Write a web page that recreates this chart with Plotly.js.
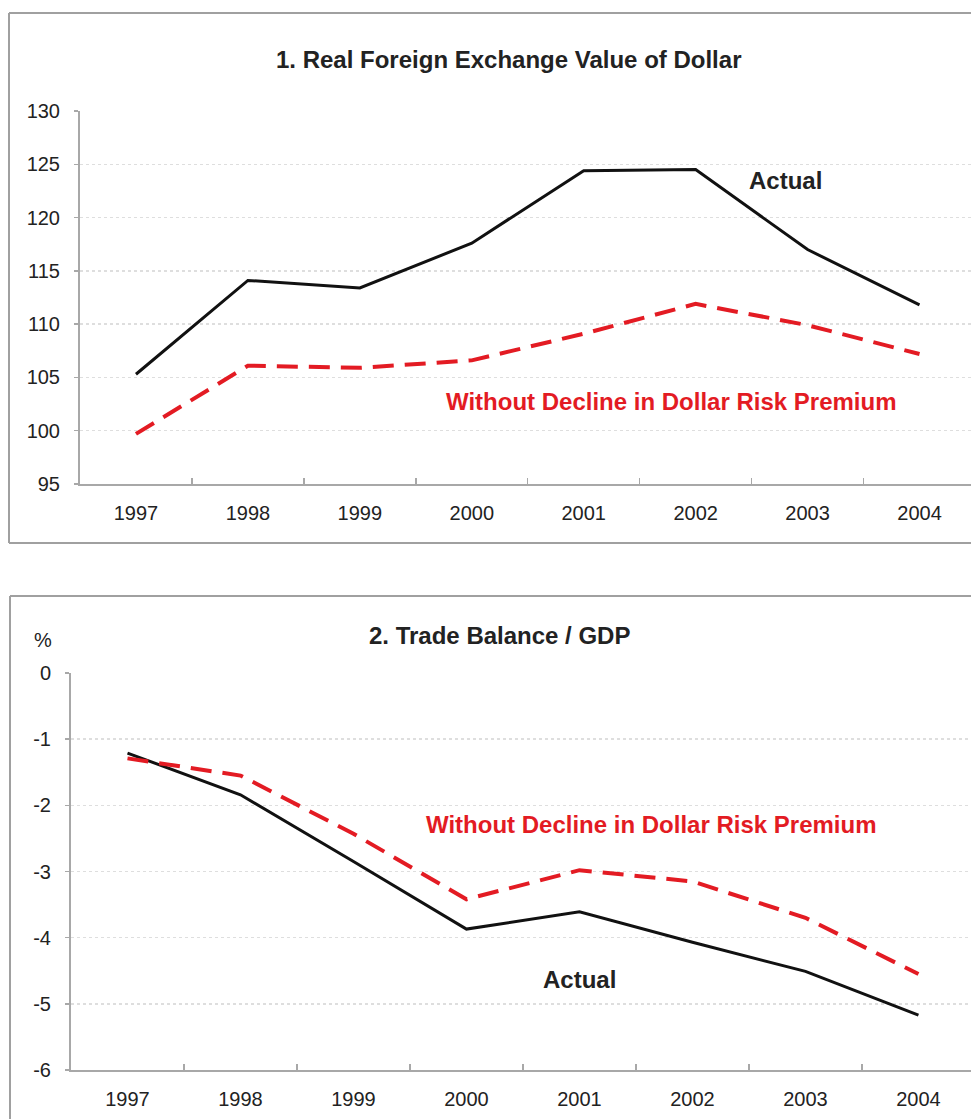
<!DOCTYPE html>
<html>
<head>
<meta charset="utf-8">
<script src="https://cdn.plot.ly/plotly-3.0.1.min.js"></script>
<style>
html,body{margin:0;padding:0;background:#fff;}
#chart{width:971px;height:1119px;}
</style>
</head>
<body>
<div id="chart"></div>
<script>
// ---- data ----
var years = ['1997','1998','1999','2000','2001','2002','2003','2004'];

var fxActual  = [105.3, 114.1, 113.4, 117.6, 124.4, 124.5, 117.0, 111.8];
var fxNoDecline = [99.7, 106.1, 105.9, 106.6, 109.1, 111.9, 109.9, 107.2];

var tbActual  = [-1.21, -1.84, -2.85, -3.87, -3.61, -4.07, -4.51, -5.17];
var tbNoDecline = [-1.29, -1.55, -2.43, -3.42, -2.98, -3.15, -3.70, -4.55];

var fxTickVals = [95, 100, 105, 110, 115, 120, 125, 130];
var tbTickVals = [-6, -5, -4, -3, -2, -1, 0];
var tbTickText = ['-6', '-5', '-4', '-3', '-2', '-1', '0'];

var title1 = '1. Real Foreign Exchange Value of Dollar';
var title2 = '2. Trade Balance / GDP';
var labelActual = 'Actual';
var labelNoDecline = 'Without Decline in Dollar Risk Premium';
var unit2 = '%';

// ---- layout helpers ----
var W = 971, H = 1119;
function px(x){ return x / W; }
function py(y){ return 1 - y / H; }

var FONT = 'Liberation Sans, Arial, sans-serif';
var RED = '#e31b23';
var BORDER = '#a0a0a0';
var AXIS = '#a8a8a8';

var traces = [
  {x: years, y: fxActual, xaxis: 'x', yaxis: 'y', type: 'scatter', mode: 'lines',
   line: {color: '#111', width: 3}, hoverinfo: 'skip'},
  {x: years, y: fxNoDecline, xaxis: 'x', yaxis: 'y', type: 'scatter', mode: 'lines',
   line: {color: RED, width: 4, dash: '21px,11px'}, hoverinfo: 'skip'},
  {x: years, y: tbActual, xaxis: 'x2', yaxis: 'y2', type: 'scatter', mode: 'lines',
   line: {color: '#111', width: 3}, hoverinfo: 'skip'},
  {x: years, y: tbNoDecline, xaxis: 'x2', yaxis: 'y2', type: 'scatter', mode: 'lines',
   line: {color: RED, width: 4, dash: '21px,11px'}, hoverinfo: 'skip'}
];

var xCommon = {
  type: 'category', showgrid: false, zeroline: false,
  showline: true, linecolor: AXIS, linewidth: 2,
  ticks: 'inside', tickson: 'boundaries', ticklen: 6, tickcolor: AXIS, tickwidth: 1.5,
  tickfont: {family: FONT, size: 20, color: '#222'},
  fixedrange: true
};
var yCommon = {
  showgrid: true, gridcolor: '#dedede', griddash: 'dot', gridwidth: 1.5,
  zeroline: false, showline: true, linecolor: AXIS, linewidth: 2,
  ticks: 'outside', ticklen: 4, tickcolor: AXIS, tickwidth: 1.5,
  tickfont: {family: FONT, size: 20, color: '#222'},
  fixedrange: true
};

var layout = {
  width: W, height: H,
  margin: {l: 0, r: 0, t: 0, b: 0},
  paper_bgcolor: '#fff', plot_bgcolor: 'rgba(0,0,0,0)',
  showlegend: false,
  font: {family: FONT},
  xaxis: Object.assign({}, xCommon, {domain: [px(80), 1], anchor: 'y', range: [-0.5, 7.46], ticklabelstandoff: 10}),
  yaxis: Object.assign({}, yCommon, {domain: [py(484), py(111)], anchor: 'x', range: [95, 130],
         tickvals: fxTickVals, ticklabelstandoff: 10}),
  xaxis2: Object.assign({}, xCommon, {domain: [px(71), 1], anchor: 'y2', range: [-0.5, 7.465], ticklabelstandoff: 10}),
  yaxis2: Object.assign({}, yCommon, {domain: [py(1070), py(673)], anchor: 'x2', range: [-6, 0],
         tickvals: tbTickVals, ticktext: tbTickText, ticklabelstandoff: 10}),
  annotations: [
    {text: '<b>' + title1 + '</b>', xref: 'paper', yref: 'paper', x: px(509), y: py(59),
     showarrow: false, font: {family: FONT, size: 24, color: '#222'}, xanchor: 'center', yanchor: 'middle'},
    {text: '<b>' + title2 + '</b>', xref: 'paper', yref: 'paper', x: px(499), y: py(635),
     showarrow: false, font: {family: FONT, size: 24, color: '#222'}, xanchor: 'center', yanchor: 'middle'},
    {text: unit2, xref: 'paper', yref: 'paper', x: px(43), y: py(640),
     showarrow: false, font: {family: FONT, size: 20, color: '#222'}, xanchor: 'center', yanchor: 'middle'},
    {text: '<b>' + labelActual + '</b>', xref: 'x', yref: 'y', x: 5.80, y: 123.5,
     showarrow: false, font: {family: FONT, size: 24, color: '#222'}, xanchor: 'center', yanchor: 'middle'},
    {text: '<b>' + labelNoDecline + '</b>', xref: 'x', yref: 'y', x: 4.78, y: 102.7,
     showarrow: false, font: {family: FONT, size: 24, color: RED}, xanchor: 'center', yanchor: 'middle'},
    {text: '<b>' + labelActual + '</b>', xref: 'x2', yref: 'y2', x: 4.0, y: -4.63,
     showarrow: false, font: {family: FONT, size: 24, color: '#222'}, xanchor: 'center', yanchor: 'middle'},
    {text: '<b>' + labelNoDecline + '</b>', xref: 'x2', yref: 'y2', x: 4.64, y: -2.29,
     showarrow: false, font: {family: FONT, size: 24, color: RED}, xanchor: 'center', yanchor: 'middle'}
  ],
  shapes: [
    // top panel frame
    {type: 'line', xref: 'paper', yref: 'paper', x0: px(9), x1: 1, y0: py(13), y1: py(13), line: {color: BORDER, width: 2}},
    {type: 'line', xref: 'paper', yref: 'paper', x0: px(9), x1: px(9), y0: py(13), y1: py(543), line: {color: BORDER, width: 2}},
    {type: 'line', xref: 'paper', yref: 'paper', x0: px(9), x1: 1, y0: py(543), y1: py(543), line: {color: BORDER, width: 2}},
    // bottom panel frame
    {type: 'line', xref: 'paper', yref: 'paper', x0: px(10), x1: 1, y0: py(596), y1: py(596), line: {color: BORDER, width: 2}},
    {type: 'line', xref: 'paper', yref: 'paper', x0: px(10), x1: px(10), y0: py(596), y1: 0, line: {color: BORDER, width: 2}}
  ]
};

Plotly.newPlot('chart', traces, layout, {staticPlot: true, displayModeBar: false});
</script>
</body>
</html>
